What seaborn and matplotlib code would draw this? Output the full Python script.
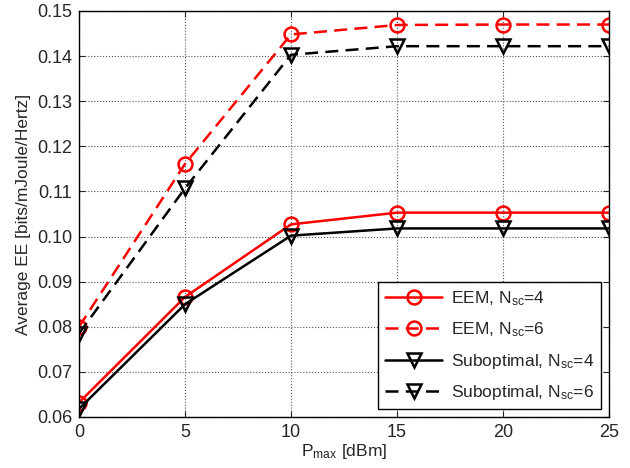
import matplotlib
matplotlib.use("Agg")
import matplotlib.pyplot as plt
import seaborn as sns
import pandas as pd

p_max = [0, 5, 10, 15, 20, 25]
eem_nsc4 = [0.0632, 0.0866, 0.1027, 0.1053, 0.1053, 0.1053]
eem_nsc6 = [0.0800, 0.1161, 0.1448, 0.1469, 0.1470, 0.1470]
sub_nsc4 = [0.0618, 0.0850, 0.1002, 0.1018, 0.1018, 0.1018]
sub_nsc6 = [0.0785, 0.1107, 0.1403, 0.1422, 0.1422, 0.1422]

labels = [r"EEM, $\mathregular{N_{sc}}$=4", r"EEM, $\mathregular{N_{sc}}$=6",
          r"Suboptimal, $\mathregular{N_{sc}}$=4", r"Suboptimal, $\mathregular{N_{sc}}$=6"]

sns.set_style("ticks")
plt.rcParams['font.family'] = ['Liberation Sans', 'DejaVu Sans']
plt.rcParams['mathtext.fontset'] = 'custom'
plt.rcParams['mathtext.rm'] = 'Liberation Sans'

fig = plt.figure(figsize=(6.3, 4.68), dpi=100)
ax = fig.add_axes([0.1254, 0.109, 0.8413, 0.8675])

series = [
    (eem_nsc4, 'red', '-', 'o'),
    (eem_nsc6, 'red', '--', 'o'),
    (sub_nsc4, 'black', '-', 'v'),
    (sub_nsc6, 'black', '--', 'v'),
]
for (vals, col, ls, mk), lab in zip(series, labels):
    df = pd.DataFrame({'x': p_max, 'y': vals})
    kw = dict(color=col, marker=mk, markersize=10, markerfacecolor='none',
              markeredgecolor=col, markeredgewidth=1.8, linewidth=1.8, label=lab)
    sns.lineplot(data=df, x='x', y='y', ax=ax, **kw)
    if ls == '--':
        ax.lines[-1].set_dashes((5.2, 2.9))

ax.set_xlim(0, 25)
ax.set_ylim(0.06, 0.15)
ax.set_xticks([0, 5, 10, 15, 20, 25])
yt = [0.06, 0.07, 0.08, 0.09, 0.10, 0.11, 0.12, 0.13, 0.14, 0.15]
ax.set_yticks(yt)
ax.set_yticklabels([f"{v:.2f}" for v in yt])
ax.grid(True, linestyle=':', color='#555555', linewidth=0.8)
ax.tick_params(direction='in', top=True, right=True, labelsize=13, length=4, width=0.8, pad=5)
for s in ax.spines.values():
    s.set_linewidth(1.0)
    s.set_color('black')
ax.set_xlabel(r"$\mathregular{P_{max}}$ [dBm]", fontsize=12.5, labelpad=1)
ax.set_ylabel("Average EE [bits/mJoule/Hertz]", fontsize=12.5, labelpad=4)

leg = ax.legend(loc='lower right', fontsize=12.5, frameon=True, fancybox=False,
                edgecolor='black', framealpha=1, handlelength=3.3, borderaxespad=0.45,
                labelspacing=0.72, borderpad=0.4, handletextpad=0.5)
leg.get_frame().set_linewidth(1.0)

fig.savefig("out.png", dpi=100)
